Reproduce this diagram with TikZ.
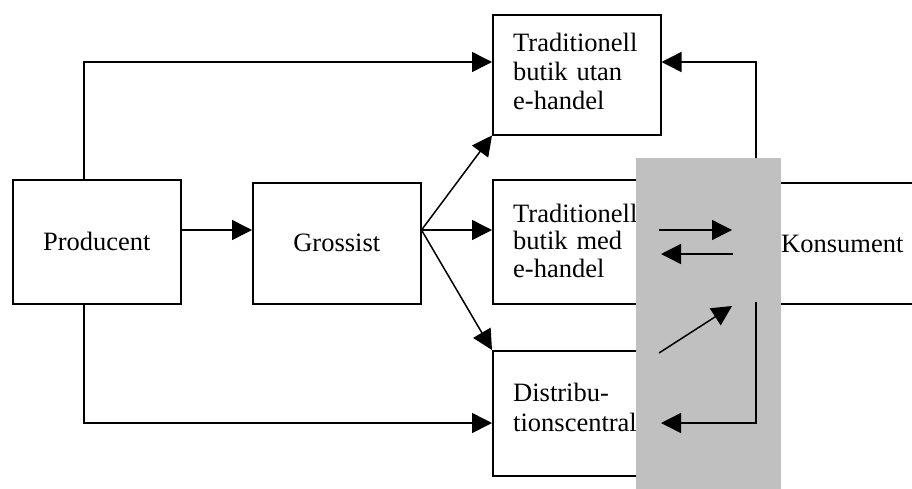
\documentclass[tikz,border=0pt]{standalone}
\usepackage{fontspec}
\setmainfont{Liberation Serif}
\usetikzlibrary{arrows.meta}
\definecolor{shade}{RGB}{192,192,192}
\begin{document}
\begin{tikzpicture}[x=1pt,y=-1pt,
  box/.style={draw, line width=1.5pt, rectangle, inner sep=0pt, anchor=north west},
  lbl/.style={inner sep=0pt, anchor=base west, align=left, text width=150pt},
  arr/.style={line width=1.5pt, -{Triangle[length=20pt,width=20pt]}},
  ln/.style={line width=1.5pt},
  font=\fontsize{26.5}{29}\selectfont]
\clip (0,0) rectangle (912,488);
% boxes
\node[box, minimum width=168pt, minimum height=124pt] (prod) at (12,179) {Producent};
\node[box, minimum width=168pt, minimum height=121pt] (gros) at (252,182) {Grossist};
\node[box, minimum width=168pt, minimum height=120pt] (utan) at (492,14) {};
\node[box, minimum width=168pt, minimum height=124pt] (med) at (492,179) {};
\node[box, minimum width=168pt, minimum height=125pt] (dist) at (492,350) {};
\node[box, minimum width=260pt, minimum height=121pt] (kons) at (700,182) {};
% texts
\node[lbl] (tutan) at (513,51) {Traditionell\\butik utan\\e-handel};
\node[lbl, font=\fontsize{26.5}{27.5}\selectfont] (tmed) at (513,222) {Traditionell\\butik med\\e-handel};
\node[lbl, font=\fontsize{26.5}{30}\selectfont] (tdist) at (513,401.7) {Distribu-\\tionscentral};
\node[lbl] (tkons) at (781,252.7) {Konsument};
% helper coordinates
\coordinate (yA) at (0,62);
\coordinate (yB) at (0,230);
\coordinate (yC) at (0,423);
\coordinate (x84) at (84,0);
\coordinate (x756) at (756,0);
% connectors
\draw[arr] (prod.north -| x84) |- (utan.west |- yA);
\draw[arr] (prod.south -| x84) |- (dist.west |- yC);
\draw[arr] (prod.east |- yB) -- (gros.west |- yB);
\coordinate (fan) at (gros.east |- yB);
\draw[arr] (fan) -- (utan.south west);
\draw[arr] (fan) -- (med.west |- yB);
\draw[arr] (fan) -- (dist.north west);
% grey band
\node[fill=shade, inner sep=0pt, minimum width=145pt, minimum height=340pt, anchor=north west] (band) at (636,158) {};
\coordinate (ret) at (band.north -| x756);
\draw[arr] (ret) |- (utan.east |- yA);
% arrows in the band
\coordinate (p1) at (659,230);
\coordinate (p2) at (732,230);
\coordinate (p3) at (733,254);
\coordinate (p4) at (661,254);
\coordinate (p5) at (659,353);
\coordinate (p6) at (732,306);
\coordinate (p7) at (756,302);
\coordinate (p8) at (661,423);
\draw[arr] (p1) -- (p2);
\draw[arr] (p3) -- (p4);
\draw[arr] (p5) -- (p6);
\draw[arr] (p7) |- (p8);
\end{tikzpicture}
\end{document}
